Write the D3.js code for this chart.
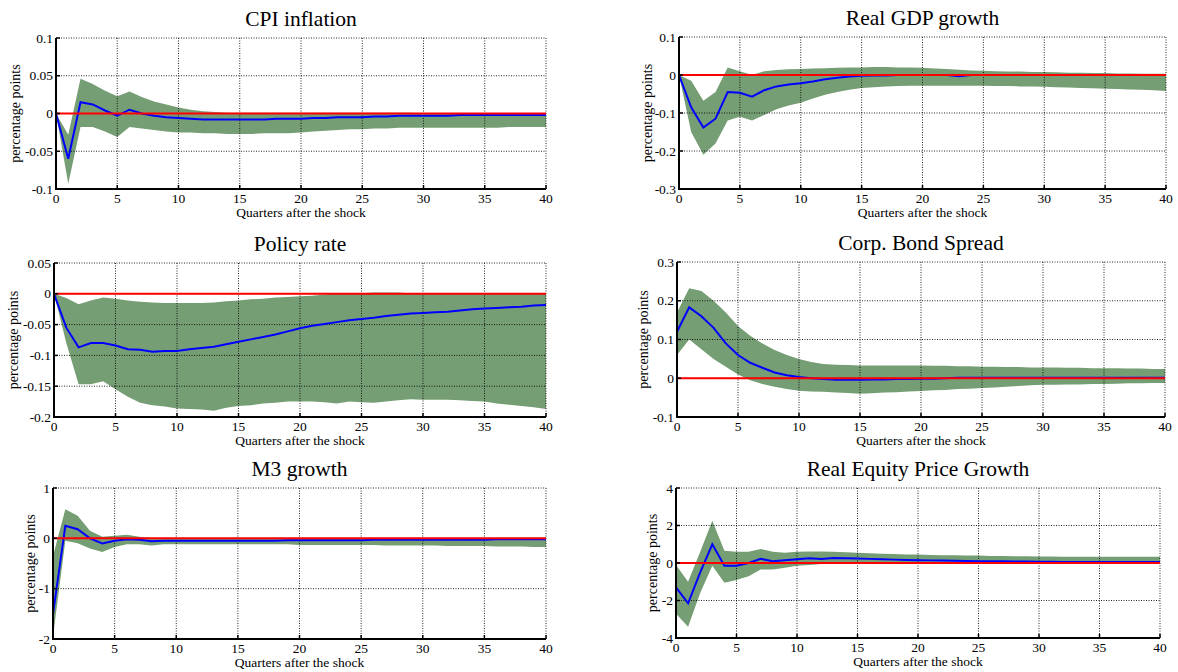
<!DOCTYPE html>
<html><head><meta charset="utf-8">
<script src="https://cdn.jsdelivr.net/npm/d3@7"></script>
<style>body{margin:0;background:#fff}svg{display:block}</style>
</head><body>
<svg id="c" width="1178" height="672"></svg>
<script>
// ---------- data ----------
const quarters = d3.range(0, 41);
const xTicks = [0, 5, 10, 15, 20, 25, 30, 35, 40];
const titles = ["CPI inflation", "Real GDP growth", "Policy rate", "Corp. Bond Spread", "M3 growth", "Real Equity Price Growth"];
const yLabel = "percentage points";
const xLabel = "Quarters after the shock";

const cpiTicks = [-0.1, -0.05, 0, 0.05, 0.1];
const cpiTickLabels = ["-0.1", "-0.05", "0", "0.05", "0.1"];
const cpiMedian = [0,-0.06,0.015,0.012,0.004,-0.003,0.005,0.0,-0.003,-0.005,-0.006,-0.007,-0.008,-0.008,-0.008,-0.008,-0.008,-0.008,-0.007,-0.007,-0.007,-0.006,-0.006,-0.005,-0.005,-0.005,-0.004,-0.004,-0.003,-0.003,-0.003,-0.003,-0.003,-0.002,-0.002,-0.002,-0.002,-0.002,-0.002,-0.002,-0.002];
const cpiUpper = [0,-0.028,0.046,0.039,0.03,0.023,0.029,0.022,0.016,0.012,0.008,0.005,0.003,0.002,0.001,0.001,0.001,0.001,0.001,0.001,0.001,0.001,0.001,0.001,0.001,0.001,0.001,0.001,0.001,0.001,0.0,0.0,0.0,0.0,0.0,0.0,0.0,0.0,0.0,0.0,0.0];
const cpiLower = [0,-0.093,-0.018,-0.018,-0.024,-0.031,-0.018,-0.02,-0.022,-0.024,-0.025,-0.025,-0.026,-0.026,-0.027,-0.027,-0.027,-0.026,-0.026,-0.026,-0.025,-0.024,-0.023,-0.022,-0.021,-0.021,-0.02,-0.02,-0.019,-0.019,-0.019,-0.019,-0.019,-0.019,-0.019,-0.019,-0.019,-0.018,-0.018,-0.018,-0.018];

const gdpTicks = [-0.3, -0.2, -0.1, 0, 0.1];
const gdpTickLabels = ["-0.3", "-0.2", "-0.1", "0", "0.1"];
const gdpMedian = [0,-0.085,-0.138,-0.115,-0.045,-0.047,-0.057,-0.04,-0.03,-0.025,-0.022,-0.017,-0.011,-0.007,-0.004,-0.002,-0.001,-0.001,0,0,0,0,0,-0.003,0,0,0,0,0,0,0,0,0,0,0,0,0,0,0,0,0];
const gdpUpper = [0,-0.015,-0.068,-0.045,0.02,0.01,0.0,0.01,0.013,0.015,0.016,0.017,0.018,0.019,0.02,0.02,0.021,0.021,0.02,0.02,0.019,0.017,0.016,0.014,0.012,0.011,0.01,0.009,0.009,0.008,0.008,0.007,0.006,0.006,0.005,0.005,0.004,0.004,0.003,0.003,0.003];
const gdpLower = [0,-0.15,-0.21,-0.18,-0.12,-0.11,-0.12,-0.105,-0.09,-0.08,-0.073,-0.062,-0.052,-0.045,-0.039,-0.034,-0.032,-0.03,-0.029,-0.028,-0.028,-0.028,-0.028,-0.028,-0.028,-0.028,-0.029,-0.029,-0.03,-0.03,-0.031,-0.032,-0.033,-0.034,-0.035,-0.036,-0.037,-0.038,-0.039,-0.04,-0.042];

const rateTicks = [-0.2, -0.15, -0.1, -0.05, 0, 0.05];
const rateTickLabels = ["-0.2", "-0.15", "-0.1", "-0.05", "0", "0.05"];
const rateMedian = [0,-0.055,-0.087,-0.08,-0.08,-0.084,-0.09,-0.091,-0.094,-0.093,-0.093,-0.09,-0.088,-0.086,-0.082,-0.078,-0.074,-0.07,-0.066,-0.061,-0.056,-0.052,-0.049,-0.046,-0.043,-0.041,-0.039,-0.036,-0.034,-0.032,-0.031,-0.03,-0.029,-0.027,-0.025,-0.024,-0.023,-0.022,-0.021,-0.019,-0.018];
const rateUpper = [0,-0.007,-0.017,-0.011,-0.006,-0.008,-0.011,-0.013,-0.014,-0.015,-0.015,-0.015,-0.015,-0.014,-0.012,-0.011,-0.009,-0.008,-0.006,-0.005,-0.004,-0.003,-0.001,0,0.001,0.001,0.002,0.002,0.002,0.001,0.001,0.001,0.001,0,0,0,0,0,0,0,0];
const rateLower = [0,-0.08,-0.147,-0.147,-0.142,-0.155,-0.167,-0.177,-0.181,-0.183,-0.186,-0.187,-0.188,-0.19,-0.185,-0.182,-0.181,-0.178,-0.177,-0.175,-0.175,-0.175,-0.176,-0.178,-0.175,-0.176,-0.177,-0.175,-0.173,-0.171,-0.172,-0.172,-0.172,-0.173,-0.174,-0.175,-0.178,-0.18,-0.182,-0.184,-0.187];

const bondTicks = [-0.1, 0, 0.1, 0.2, 0.3];
const bondTickLabels = ["-0.1", "0", "0.1", "0.2", "0.3"];
const bondMedian = [0.12,0.183,0.16,0.13,0.09,0.06,0.04,0.027,0.015,0.008,0.003,0.0,-0.002,-0.004,-0.004,-0.004,-0.003,-0.003,-0.002,-0.002,-0.001,-0.001,0,0.001,0.001,0.001,0.001,0.001,0.001,0.001,0.001,0.001,0.001,0.001,0.001,0.001,0.001,0.001,0.001,0.001,0.001];
const bondUpper = [0.17,0.232,0.225,0.2,0.17,0.135,0.11,0.09,0.073,0.06,0.05,0.042,0.037,0.035,0.034,0.033,0.033,0.033,0.033,0.033,0.033,0.032,0.032,0.031,0.031,0.03,0.03,0.029,0.029,0.028,0.028,0.028,0.027,0.027,0.026,0.026,0.026,0.025,0.025,0.024,0.024];
const bondLower = [0.06,0.1,0.075,0.05,0.03,0.01,-0.005,-0.015,-0.022,-0.028,-0.032,-0.034,-0.035,-0.037,-0.038,-0.04,-0.039,-0.037,-0.036,-0.034,-0.033,-0.031,-0.03,-0.028,-0.027,-0.025,-0.024,-0.022,-0.02,-0.018,-0.017,-0.017,-0.016,-0.016,-0.015,-0.015,-0.014,-0.013,-0.013,-0.012,-0.012];

const m3Ticks = [-2, -1, 0, 1];
const m3TickLabels = ["-2", "-1", "0", "1"];
const m3Median = [-1.5,0.25,0.18,0.0,-0.1,-0.05,-0.02,-0.03,-0.06,-0.05,-0.05,-0.05,-0.05,-0.05,-0.05,-0.05,-0.05,-0.05,-0.05,-0.04,-0.04,-0.04,-0.04,-0.04,-0.04,-0.04,-0.03,-0.03,-0.03,-0.03,-0.03,-0.03,-0.03,-0.03,-0.03,-0.03,-0.02,-0.02,-0.02,-0.02,-0.02];
const m3Upper = [-0.35,0.58,0.45,0.15,0.03,0.05,0.07,0.03,0.0,0.0,0.0,0.0,0.0,0.0,0.0,0.0,0.0,0.0,0.0,0.0,0.0,0.0,0.0,0.0,0.0,0.0,0.0,0.0,0.0,0.0,0.0,0.0,0.0,0.0,0.0,0.0,0.0,0.0,0.0,0.0,0.0];
const m3Lower = [-1.95,-0.05,-0.1,-0.2,-0.27,-0.17,-0.12,-0.12,-0.14,-0.12,-0.12,-0.12,-0.12,-0.12,-0.12,-0.12,-0.12,-0.12,-0.12,-0.12,-0.13,-0.13,-0.13,-0.13,-0.13,-0.13,-0.13,-0.14,-0.14,-0.14,-0.14,-0.14,-0.15,-0.15,-0.15,-0.15,-0.16,-0.16,-0.16,-0.17,-0.17];

const eqTicks = [-4, -2, 0, 2, 4];
const eqTickLabels = ["-4", "-2", "0", "2", "4"];
const eqMedian = [-1.3,-2.15,-0.5,1.0,-0.15,-0.15,0.0,0.22,0.1,0.15,0.2,0.25,0.22,0.27,0.25,0.24,0.22,0.2,0.18,0.16,0.15,0.14,0.13,0.12,0.11,0.1,0.1,0.09,0.08,0.08,0.07,0.07,0.06,0.06,0.06,0.05,0.05,0.05,0.05,0.05,0.05];
const eqUpper = [-0.1,-1.0,0.6,2.25,0.65,0.6,0.6,0.75,0.6,0.55,0.6,0.62,0.62,0.6,0.58,0.55,0.52,0.5,0.48,0.46,0.45,0.43,0.42,0.41,0.4,0.4,0.38,0.37,0.36,0.36,0.35,0.35,0.34,0.34,0.33,0.33,0.33,0.33,0.33,0.33,0.33];
const eqLower = [-2.7,-3.4,-1.6,-0.15,-1.05,-0.9,-0.7,-0.35,-0.35,-0.25,-0.15,-0.1,-0.05,-0.02,0.0,0.0,0.0,-0.02,-0.03,-0.05,-0.05,-0.05,-0.05,-0.05,-0.05,-0.05,-0.05,-0.05,-0.05,-0.05,-0.05,-0.05,-0.05,-0.05,-0.05,-0.05,-0.05,-0.05,-0.05,-0.05,-0.05];

// ---------- layout (positions only) ----------
const layout = [
  {x0: 56,  x1: 546,  y0: 38,  y1: 189, lab: 36},
  {x0: 679, x1: 1166, y0: 37,  y1: 189, lab: 27.5},
  {x0: 54,  x1: 546,  y0: 263, y1: 417, lab: 36.5},
  {x0: 677, x1: 1165, y0: 262, y1: 417, lab: 29.5},
  {x0: 53,  x1: 546,  y0: 488, y1: 639, lab: 18.5},
  {x0: 676, x1: 1160, y0: 488, y1: 638, lab: 19.5}
];

const panels = [
  {ticks: cpiTicks, labels: cpiTickLabels, med: cpiMedian, lo: cpiLower, hi: cpiUpper},
  {ticks: gdpTicks, labels: gdpTickLabels, med: gdpMedian, lo: gdpLower, hi: gdpUpper},
  {ticks: rateTicks, labels: rateTickLabels, med: rateMedian, lo: rateLower, hi: rateUpper},
  {ticks: bondTicks, labels: bondTickLabels, med: bondMedian, lo: bondLower, hi: bondUpper},
  {ticks: m3Ticks, labels: m3TickLabels, med: m3Median, lo: m3Lower, hi: m3Upper},
  {ticks: eqTicks, labels: eqTickLabels, med: eqMedian, lo: eqLower, hi: eqUpper}
];

const svg = d3.select("#c");
const font = "'Liberation Serif', 'Times New Roman', serif";

panels.forEach((p, i) => {
  const L = layout[i];
  const x = d3.scaleLinear().domain([0, 40]).range([L.x0, L.x1]);
  const y = d3.scaleLinear().domain(d3.extent(p.ticks)).range([L.y1, L.y0]);
  const g = svg.append("g");

  // band
  const area = d3.area().x((d, k) => x(quarters[k])).y0((d, k) => y(p.lo[k])).y1((d, k) => y(p.hi[k]));
  g.append("path").datum(p.med).attr("d", area).attr("fill", "#769e74").attr("stroke", "none");

  // grid (dotted), including top and right border
  xTicks.slice(1).forEach(t => {
    g.append("line").attr("x1", x(t)).attr("x2", x(t)).attr("y1", L.y0).attr("y2", L.y1)
      .attr("stroke", "#000").attr("stroke-width", 1).attr("stroke-dasharray", "1,1.5").attr("opacity", 0.85);
  });
  p.ticks.slice(1).forEach(t => {
    g.append("line").attr("x1", L.x0).attr("x2", L.x1).attr("y1", y(t)).attr("y2", y(t))
      .attr("stroke", "#000").attr("stroke-width", 1).attr("stroke-dasharray", "1,1.5").attr("opacity", 0.85);
  });

  // median
  const line = d3.line().x((d, k) => x(quarters[k])).y(d => y(d));
  g.append("path").datum(p.med).attr("d", line).attr("fill", "none").attr("stroke", "#0000ff").attr("stroke-width", 2);
  // zero line
  g.append("line").attr("x1", x(0)).attr("x2", x(40)).attr("y1", y(0)).attr("y2", y(0))
    .attr("stroke", "#ff0000").attr("stroke-width", 2);

  // axes lines
  g.append("line").attr("x1", L.x0).attr("x2", L.x0).attr("y1", L.y0).attr("y2", L.y1 + 1)
    .attr("stroke", "#000").attr("stroke-width", 2);
  g.append("line").attr("x1", L.x0 - 1).attr("x2", L.x1).attr("y1", L.y1).attr("y2", L.y1)
    .attr("stroke", "#000").attr("stroke-width", 2);
  // tick marks
  xTicks.forEach(t => {
    g.append("line").attr("x1", x(t)).attr("x2", x(t)).attr("y1", L.y1).attr("y2", L.y1 - 4)
      .attr("stroke", "#000").attr("stroke-width", 1.5);
  });
  p.ticks.forEach(t => {
    g.append("line").attr("x1", L.x0).attr("x2", L.x0 + 4).attr("y1", y(t)).attr("y2", y(t))
      .attr("stroke", "#000").attr("stroke-width", 1.5);
  });

  // tick labels
  xTicks.forEach(t => {
    g.append("text").attr("x", x(t)).attr("y", L.y1 + 14).attr("text-anchor", "middle")
      .attr("font-family", font).attr("font-size", 13.5).text(String(t));
  });
  p.ticks.forEach((t, k) => {
    g.append("text").attr("x", L.x0 - 3).attr("y", y(t) + 4.5).attr("text-anchor", "end")
      .attr("font-family", font).attr("font-size", 13.5).text(p.labels[k]);
  });

  // titles and labels
  g.append("text").attr("x", (L.x0 + L.x1) / 2).attr("y", L.y0 - 12).attr("text-anchor", "middle")
    .attr("font-family", font).attr("font-size", 21.5).text(titles[i]);
  g.append("text").attr("x", (L.x0 + L.x1) / 2).attr("y", L.y1 + 28).attr("text-anchor", "middle")
    .attr("font-family", font).attr("font-size", 13.5).text(xLabel);
  const ly = (L.y0 + L.y1) / 2;
  const lx = L.x0 - L.lab;
  g.append("text").attr("transform", `translate(${lx},${ly}) rotate(-90)`).attr("text-anchor", "middle")
    .attr("font-family", font).attr("font-size", 14).text(yLabel);
});
</script>
</body></html>
